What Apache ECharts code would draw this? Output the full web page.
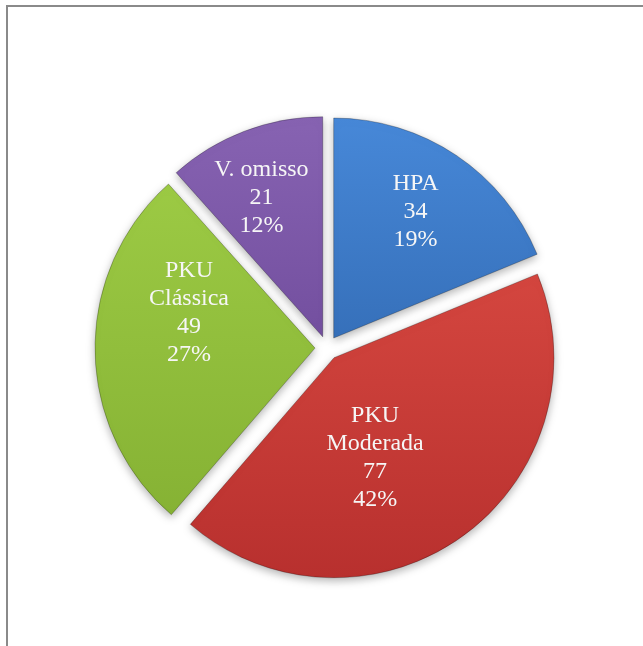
<!DOCTYPE html>
<html>
<head>
<meta charset="utf-8">
<script src="https://cdn.jsdelivr.net/npm/echarts@6/dist/echarts.min.js"></script>
<style>
  html, body { margin: 0; padding: 0; background: #fff; }
  #chart { width: 643px; height: 646px; }
</style>
</head>
<body>
<div id="chart"></div>
<script>
// categorias e valores (sentido horário a partir das 12h)
const categories = ['HPA', 'PKU\nModerada', 'PKU\nClássica', 'V. omisso']
const values = [34, 77, 49, 21]
// cores das fatias: topo / base do gradiente
const colorsTop = ['#4788d8', '#d4463f', '#9cca44', '#8763b2']
const colorsBottom = ['#3670ba', '#b8302e', '#86b234', '#734f9f']
// deslocamento do rótulo em relação à posição "inside" padrão
const labelNudge = [[19, -32], [-25, 8], [-13, -36], [-21, -34]]

const chart = echarts.init(document.getElementById('chart'), null, { renderer: 'canvas' })

const data = categories.map((name, i) => ({
  name,
  value: values[i],
  selected: true,
  itemStyle: {
    color: new echarts.graphic.LinearGradient(0, 0, 0, 1, [
      { offset: 0, color: colorsTop[i] },
      { offset: 1, color: colorsBottom[i] },
    ]),
  },
}))

chart.setOption({
  animation: false,
  backgroundColor: '#fff',
  graphic: [
    {
      type: 'polyline',
      shape: { points: [[7, 646], [7, 6], [643, 6]] },
      style: { stroke: '#8a8a8a', lineWidth: 2, fill: null },
      z: 10,
    },
  ],
  series: [
    {
      type: 'pie',
      center: [327, 348],
      radius: [0, 220],
      startAngle: 90,
      clockwise: true,
      selectedMode: 'multiple',
      selectedOffset: 12,
      percentPrecision: 0,
      data,
      itemStyle: {
        borderColor: 'rgba(0,0,0,0.25)',
        borderWidth: 1,
        shadowBlur: 8,
        shadowOffsetY: 3,
        shadowColor: 'rgba(0,0,0,0.3)',
      },
      select: {
        itemStyle: {
          borderColor: 'rgba(0,0,0,0.25)',
          borderWidth: 1,
        },
      },
      emphasis: { disabled: true },
      label: {
        show: true,
        position: 'inside',
        formatter: '{b}\n{c}\n{d}%',
        fontFamily: '"Liberation Serif", "Times New Roman", serif',
        fontSize: 24,
        lineHeight: 28,
        color: '#f6f6f6',
        align: 'center',
      },
      labelLine: { show: false },
      labelLayout(params) {
        const n = labelNudge[params.dataIndex]
        return { dx: n[0], dy: n[1] }
      },
    },
  ],
})
</script>
</body>
</html>
